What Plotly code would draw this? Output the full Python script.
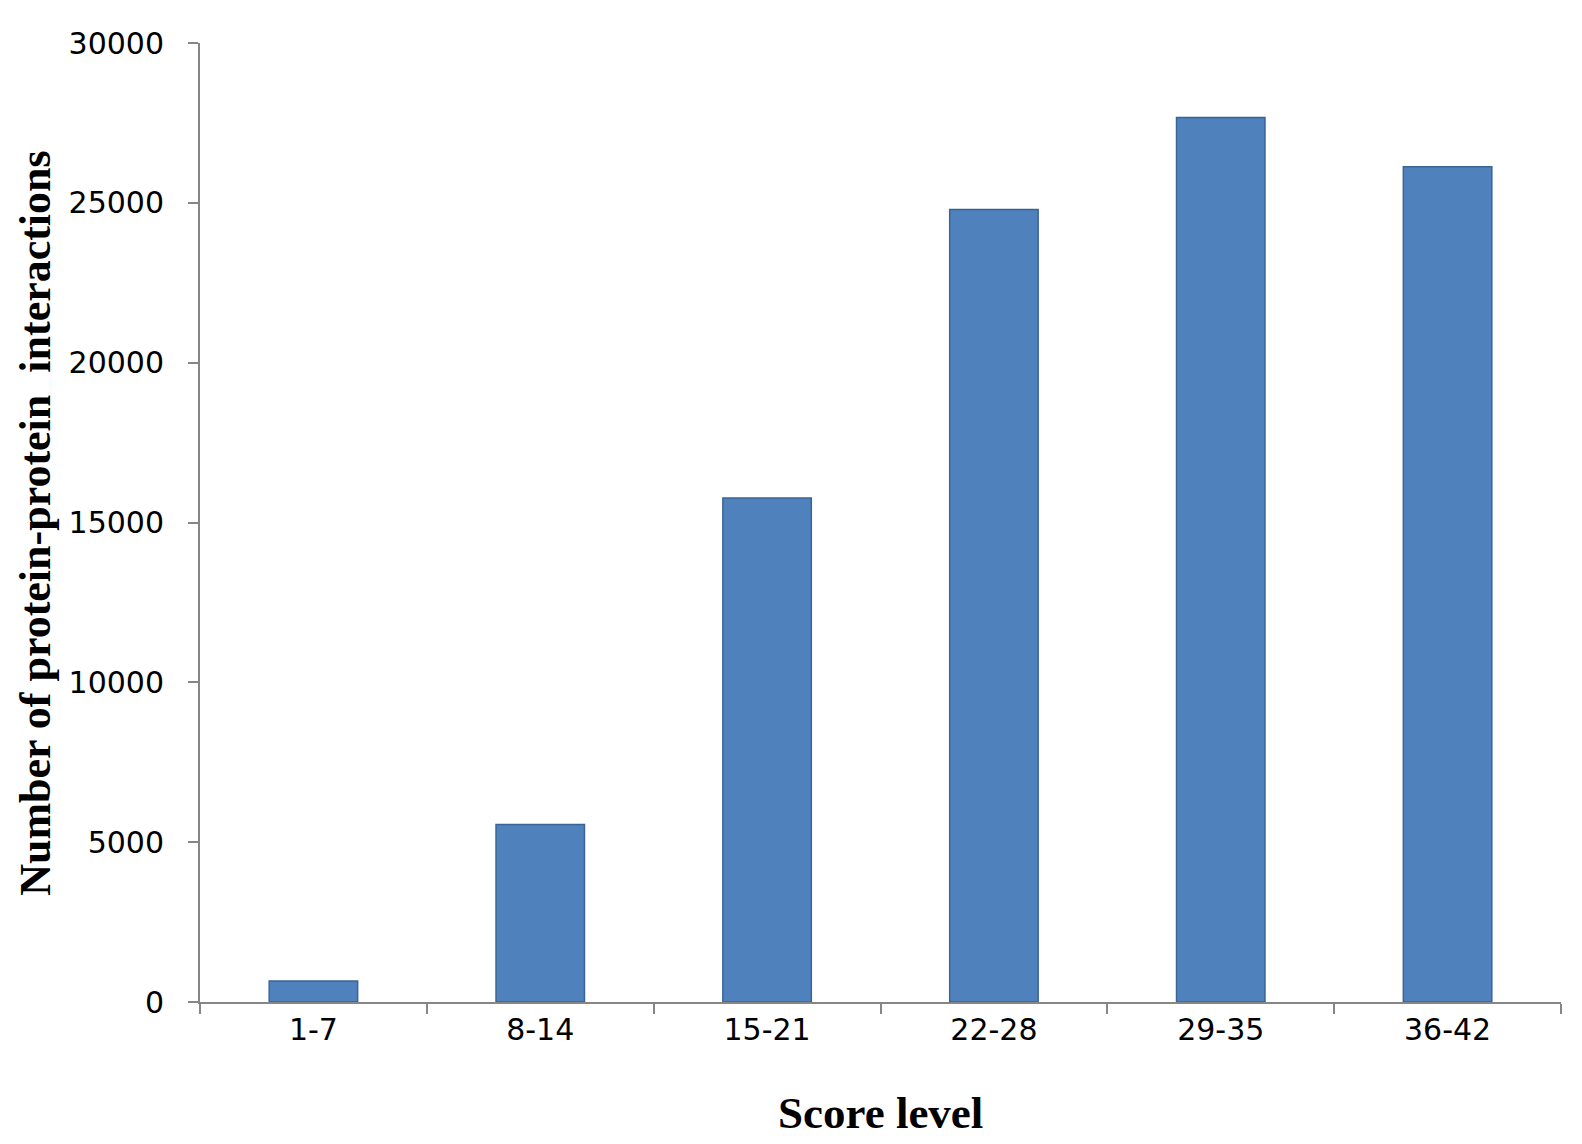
import plotly.graph_objects as go

categories = ["1-7", "8-14", "15-21", "22-28", "29-35", "36-42"]
counts = [660, 5550, 15770, 24790, 27670, 26130]
y_ticks = [0, 5000, 10000, 15000, 20000, 25000, 30000]

fig = go.Figure()
fig.add_trace(go.Bar(
    x=categories, y=counts,
    marker=dict(color="#4F81BD", line=dict(color="#3B6496", width=1.5)),
    width=0.39,
))

tick_font = dict(family="DejaVu Sans", size=30, color="#000")

fig.update_layout(
    width=1582, height=1144,
    paper_bgcolor="white", plot_bgcolor="white",
    margin=dict(l=192, r=29, t=35, b=150),
    showlegend=False,
    font=dict(family="DejaVu Sans", size=30, color="#000000"),
    xaxis=dict(
        showline=True, linecolor="#868686", linewidth=2,
        ticks="outside", tickson="boundaries", ticklen=10, tickcolor="#868686", tickwidth=2,
        showgrid=False, tickfont=tick_font,
    ),
    yaxis=dict(
        range=[0, 30000], tickvals=y_ticks, ticktext=[str(v) for v in y_ticks],
        showline=True, linecolor="#868686", linewidth=2,
        ticks="outside", ticklen=10, tickcolor="#868686", tickwidth=2,
        showgrid=False, zeroline=False, ticklabelstandoff=18,
        tickfont=tick_font,
    ),
    annotations=[
        dict(text="<b>Score level</b>", xref="paper", yref="paper", x=0.5, y=-0.116,
             xanchor="center", yanchor="middle", showarrow=False,
             font=dict(family="Liberation Serif", size=45, color="#000")),
        dict(text="<b>Number of protein-protein  interactions</b>", xref="paper", yref="paper",
             x=-0.121, y=0.5, xanchor="center", yanchor="middle", textangle=-90, showarrow=False,
             font=dict(family="Liberation Serif", size=44, color="#000")),
    ],
)

fig.write_html("out.html")
